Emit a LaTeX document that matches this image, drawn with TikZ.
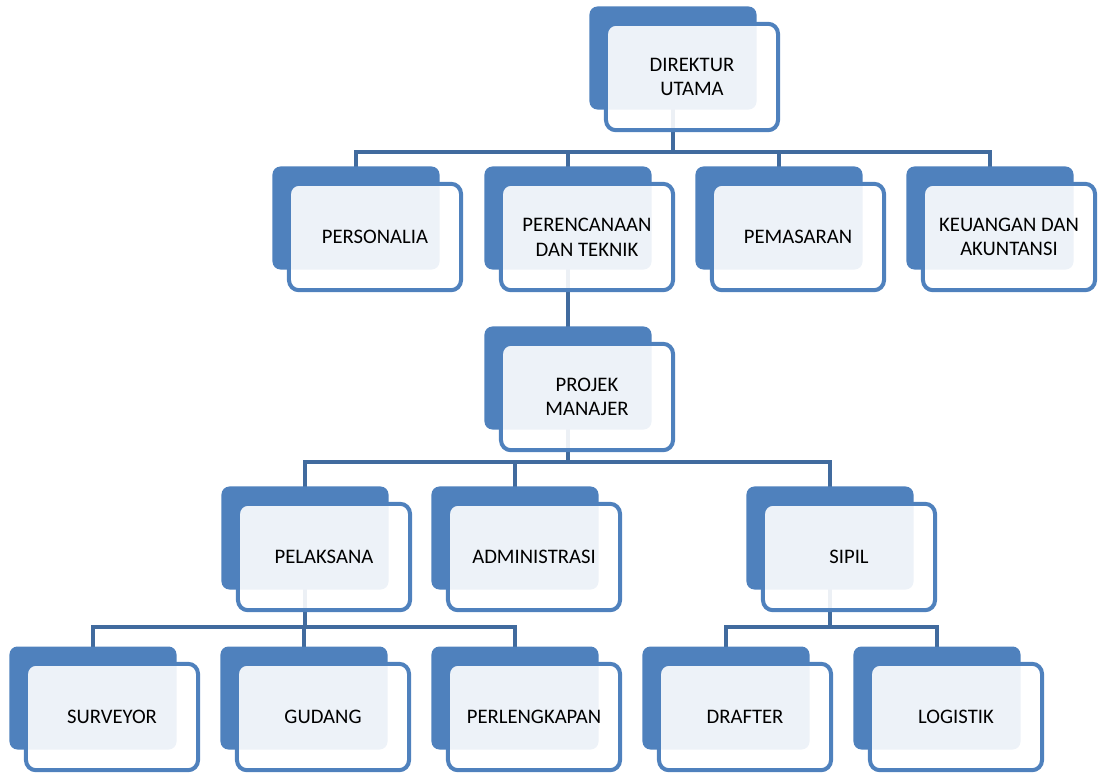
\documentclass[tikz,border=0pt]{standalone}
\usepackage{fontspec}
\setmainfont{Carlito}
\usetikzlibrary{backgrounds}
\definecolor{boxblue}{RGB}{79,129,189}
\definecolor{linkblue}{RGB}{65,107,158}

\begin{document}
\begin{tikzpicture}[x=0.025cm,y=-0.025cm,
    backbox/.style={rectangle,rounded corners=0.2cm,fill=boxblue,
      minimum width=4.175cm,minimum height=2.575cm},
    frontbox/.style={rectangle,rounded corners=0.25cm,draw=boxblue,line width=0.1cm,
      fill=white,fill opacity=0.9,text opacity=1,minimum width=4.3cm,minimum height=2.66cm,
      align=center,font=\fontsize{14.7}{17.5}\selectfont},
    link/.style={draw=linkblue,line width=0.1cm}]
  \useasboundingbox (0,0) rectangle (1104,772);
  \def \Boxes{
    dir/673/58/{DIREKTUR\\UTAMA},
    per/356/218/PERSONALIA,
    ren/568/218/{PERENCANAAN\\DAN TEKNIK},
    pem/779/218/PEMASARAN,
    keu/990/218/{KEUANGAN DAN\\AKUNTANSI},
    pm/568/378/{PROJEK\\MANAJER},
    pel/305/538/PELAKSANA,
    adm/515/538/ADMINISTRASI,
    sip/830/538/SIPIL,
    sur/93/698/SURVEYOR,
    gud/304/698/GUDANG,
    pkp/515/698/PERLENGKAPAN,
    dra/726/698/DRAFTER,
    log/937/698/LOGISTIK}
  \def \Links{
    dir/per/152,
    dir/ren/152,
    dir/pem/152,
    dir/keu/152,
    ren/pm/305,
    pm/pel/462,
    pm/adm/462,
    pm/sip/462,
    pel/sur/627,
    pel/gud/627,
    pel/pkp/627,
    sip/dra/627,
    sip/log/627}
  \foreach \id / \x / \y / \txt in \Boxes{
    \node[backbox] (b\id) at (\x, \y) {};
    \node[frontbox] (\id) at (\x+19, \y+19) {\txt};
  }
  \begin{scope}[on background layer]
    \foreach \a / \b / \y in \Links{
      \path[link] (b\a.center) -- (b\a.center |- 0,\y) -| (b\b.center);
    }
  \end{scope}
\end{tikzpicture}
\end{document}
